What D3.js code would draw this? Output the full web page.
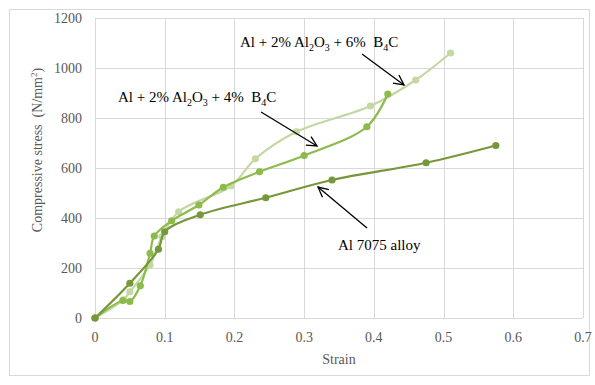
<!DOCTYPE html>
<html>
<head>
<meta charset="utf-8">
<script src="https://cdn.jsdelivr.net/npm/d3@7"></script>
<style>
  body { margin: 0; background: #fff; }
  text { font-family: "Liberation Serif", "Times New Roman", serif; }
</style>
</head>
<body>
<div id="chart"></div>
<script>
// data: [strain, stress]
const alloy7075 = [[0, 0], [0.05, 139], [0.091, 275], [0.10, 345], [0.151, 413], [0.245, 481], [0.34, 552], [0.475, 621], [0.575, 690]];
const b4c4 = [[0, 0], [0.04, 70], [0.05, 66], [0.065, 129], [0.079, 259], [0.085, 328], [0.11, 389], [0.149, 452], [0.184, 523], [0.236, 585], [0.30, 650], [0.39, 765], [0.42, 896]];
const b4c6 = [[0, 0], [0.041, 73], [0.05, 105], [0.079, 212], [0.096, 325], [0.12, 425], [0.195, 528], [0.23, 637], [0.289, 745], [0.395, 848], [0.46, 952], [0.51, 1060]];

const seriesColors = ["#76983a", "#8dba4c", "#c4d8a3"];
const xTicks = [0, 0.1, 0.2, 0.3, 0.4, 0.5, 0.6, 0.7];
const yTicks = [0, 200, 400, 600, 800, 1000, 1200];

const W = 595, H = 385;
const margin = {left: 95, right: 12, top: 18, bottom: 67};

const svg = d3.select("#chart").append("svg")
  .attr("width", W)
  .attr("height", H);

// outer chart border
svg.append("rect")
  .attr("x", 9.5).attr("y", 9.5)
  .attr("width", 580).attr("height", 366)
  .attr("fill", "none").attr("stroke", "#d9d9d9");

const x = d3.scaleLinear().domain([0, 0.7]).range([margin.left, W - margin.right]);
const y = d3.scaleLinear().domain([0, 1200]).range([H - margin.bottom, margin.top]);

// grid
svg.append("g")
  .selectAll("line")
  .data(yTicks).enter()
  .append("line")
  .attr("x1", x(0)).attr("x2", x(0.7))
  .attr("y1", d => Math.round(y(d)) + 0.5).attr("y2", d => Math.round(y(d)) + 0.5)
  .attr("stroke", "#d9d9d9");

svg.append("g")
  .selectAll("line")
  .data(xTicks).enter()
  .append("line")
  .attr("y1", y(0)).attr("y2", y(1200))
  .attr("x1", d => Math.round(x(d)) + 0.5).attr("x2", d => Math.round(x(d)) + 0.5)
  .attr("stroke", "#d9d9d9");

// tick labels
svg.append("g")
  .selectAll("text")
  .data(yTicks).enter()
  .append("text")
  .attr("x", 82)
  .attr("y", d => y(d) + 5)
  .attr("text-anchor", "end")
  .attr("font-size", 14)
  .attr("fill", "#595959")
  .text(d => d);

svg.append("g")
  .selectAll("text")
  .data(xTicks).enter()
  .append("text")
  .attr("x", d => x(d))
  .attr("y", 342)
  .attr("text-anchor", "middle")
  .attr("font-size", 14)
  .attr("fill", "#595959")
  .text(d => d);

// axis titles
svg.append("text")
  .attr("x", 339).attr("y", 364)
  .attr("text-anchor", "middle")
  .attr("font-size", 14)
  .attr("fill", "#595959")
  .text("Strain");

const yTitle = svg.append("text")
  .attr("transform", "translate(42,150) rotate(-90)")
  .attr("text-anchor", "middle")
  .attr("font-size", 14)
  .attr("fill", "#595959");
yTitle.append("tspan").text("Compressive stress\u00a0 (N/mm");
yTitle.append("tspan").attr("dy", -5).attr("font-size", 9).text("2");
yTitle.append("tspan").attr("dy", 5).text(")");

// lines and markers
const line = d3.line()
  .x(d => x(d[0]))
  .y(d => y(d[1]))
  .curve(d3.curveCatmullRom.alpha(0.5));

const allSeries = [alloy7075, b4c4, b4c6];
// lightest first so darker series sit on top
[2, 1, 0].forEach(i => {
  const g = svg.append("g");
  g.append("path")
    .datum(allSeries[i])
    .attr("d", line)
    .attr("fill", "none")
    .attr("stroke", seriesColors[i])
    .attr("stroke-width", 2.2);
  g.selectAll("circle")
    .data(allSeries[i]).enter()
    .append("circle")
    .attr("cx", d => x(d[0]))
    .attr("cy", d => y(d[1]))
    .attr("r", 3.6)
    .attr("fill", seriesColors[i]);
});

// annotations
svg.append("defs").append("marker")
  .attr("id", "arrow")
  .attr("viewBox", "0 0 12 12")
  .attr("refX", 11).attr("refY", 6)
  .attr("markerWidth", 12).attr("markerHeight", 12)
  .attr("markerUnits", "userSpaceOnUse")
  .attr("orient", "auto")
  .append("path")
  .attr("d", "M1,1 L11,6 L1,11")
  .attr("fill", "none")
  .attr("stroke", "#000")
  .attr("stroke-width", 1.3);

// parts: plain strings, or ["2"] arrays for subscripts
function label(px, py, parts) {
  const t = svg.append("text")
    .attr("x", px).attr("y", py)
    .attr("font-size", 15)
    .attr("fill", "#000");
  let shifted = false;
  parts.forEach(p => {
    if (Array.isArray(p)) {
      t.append("tspan").attr("dy", 4).attr("font-size", 10).text(p[0]);
      shifted = true;
    } else {
      t.append("tspan").attr("dy", shifted ? -4 : 0).text(p);
      shifted = false;
    }
  });
}

label(240, 47, ["Al + 2% Al", ["2"], "O", ["3"], " + 6%\u00a0 B", ["4"], "C"]);
label(118, 102, ["Al + 2% Al", ["2"], "O", ["3"], " + 4%\u00a0 B", ["4"], "C"]);
label(338, 250, ["Al 7075 alloy"]);

const arrows = [
  [362, 54, 404, 85],
  [261, 112, 317, 146],
  [367, 228, 318, 187]
];
svg.append("g")
  .selectAll("line")
  .data(arrows).enter()
  .append("line")
  .attr("x1", d => d[0]).attr("y1", d => d[1])
  .attr("x2", d => d[2]).attr("y2", d => d[3])
  .attr("stroke", "#000")
  .attr("stroke-width", 1.3)
  .attr("marker-end", "url(#arrow)");
</script>
</body>
</html>
